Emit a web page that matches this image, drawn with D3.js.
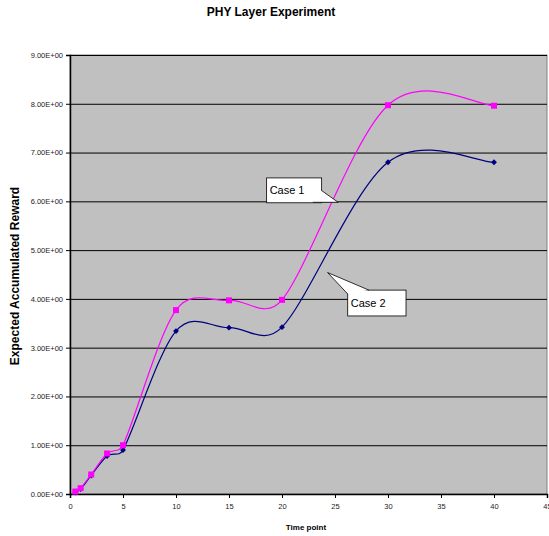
<!DOCTYPE html>
<html lang="en">
<head>
<meta charset="utf-8" />
<title>PHY Layer Experiment</title>
<script src="https://d3js.org/d3.v7.min.js"></script>
<style>
  body { margin: 0; background: #fff; }
  svg text { font-family: "Liberation Sans", Arial, sans-serif; }
</style>
</head>
<body>
<svg id="chart" width="549" height="536"></svg>
<script>
// data
const timePoints = [0.5, 1, 2, 3.5, 5, 10, 15, 20, 30, 40];
const case1 = [0.05, 0.12, 0.40, 0.83, 1.00, 3.77, 3.97, 3.98, 7.97, 7.96];
const case2 = [0.03, 0.10, 0.38, 0.78, 0.90, 3.34, 3.41, 3.42, 6.80, 6.80];
const xTicks = [0, 5, 10, 15, 20, 25, 30, 35, 40, 45];
const yTicks = [0, 1, 2, 3, 4, 5, 6, 7, 8, 9];
const yTickLabels = ["0.00E+00", "1.00E+00", "2.00E+00", "3.00E+00", "4.00E+00",
                     "5.00E+00", "6.00E+00", "7.00E+00", "8.00E+00", "9.00E+00"];

const svg = d3.select("#chart");
const margin = {top: 55, right: 2, bottom: 42, left: 70};
const width = +svg.attr("width"), height = +svg.attr("height");
const plotW = width - margin.left - margin.right;
const plotH = height - margin.top - margin.bottom;

const x = d3.scaleLinear().domain([0, 45]).range([0, plotW]);
const y = d3.scaleLinear().domain([0, 9]).range([plotH, 0]);

svg.append("text")
  .attr("x", 271).attr("y", 16)
  .attr("text-anchor", "middle")
  .style("font-size", "12px").style("font-weight", "bold")
  .text("PHY Layer Experiment");

const g = svg.append("g").attr("transform", "translate(" + margin.left + "," + margin.top + ")");

g.append("rect")
  .attr("width", plotW).attr("height", plotH)
  .attr("fill", "#c0c0c0").attr("stroke", "#808080").attr("stroke-width", 1);

// gridlines
g.append("g")
  .call(d3.axisLeft(y).tickValues(yTicks.slice(1)).tickSize(-plotW).tickFormat(""))
  .call(s => s.select(".domain").remove())
  .selectAll("line").attr("stroke", "#000").attr("stroke-width", 1);

// y axis
const yAxis = g.append("g")
  .call(d3.axisLeft(y).tickValues(yTicks).tickSize(4).tickPadding(3)
    .tickFormat((d, i) => yTickLabels[i]));
yAxis.select(".domain").attr("stroke", "#000").attr("stroke-width", 1.5);
yAxis.selectAll("text").style("font-size", "7.5px").attr("fill", "#222");

// x axis
const xAxis = g.append("g")
  .attr("transform", "translate(0," + plotH + ")")
  .call(d3.axisBottom(x).tickValues(xTicks).tickSize(4).tickPadding(6));
xAxis.select(".domain").attr("stroke", "#000").attr("stroke-width", 1.5);
xAxis.selectAll("text").style("font-size", "7.5px").attr("fill", "#222");

svg.append("text")
  .attr("x", 306).attr("y", 530)
  .attr("text-anchor", "middle")
  .style("font-size", "8px").style("font-weight", "bold")
  .text("Time point");

svg.append("text")
  .attr("transform", "translate(19,276) rotate(-90)")
  .attr("text-anchor", "middle")
  .style("font-size", "12px").style("font-weight", "bold")
  .text("Expected Accumulated Reward");

// excel-style smoothing: tangent (P2-P0)/6, capped at half the segment length
function smoothPath(pts) {
  const p = pts.map(d => [x(d[0]), y(d[1])]);
  const dist = (a, b) => Math.hypot(a[0] - b[0], a[1] - b[1]);
  const path = d3.path();
  path.moveTo(p[0][0], p[0][1]);
  for (let i = 0; i < p.length - 1; i++) {
    const p0 = p[Math.max(i - 1, 0)], p1 = p[i], p2 = p[i + 1], p3 = p[Math.min(i + 2, p.length - 1)];
    const d12 = dist(p1, p2), d02 = dist(p0, p2), d13 = dist(p1, p3);
    const f1 = d02 > 0 ? Math.min(1 / 6, d12 / 2 / d02) : 0;
    const f2 = d13 > 0 ? Math.min(1 / 6, d12 / 2 / d13) : 0;
    path.bezierCurveTo(
      p1[0] + (p2[0] - p0[0]) * f1, p1[1] + (p2[1] - p0[1]) * f1,
      p2[0] - (p3[0] - p1[0]) * f2, p2[1] - (p3[1] - p1[1]) * f2,
      p2[0], p2[1]);
  }
  return path.toString();
}

const s2 = timePoints.map((t, i) => [t, case2[i]]);
const s1 = timePoints.map((t, i) => [t, case1[i]]);

g.append("path").attr("d", smoothPath(s2))
  .attr("fill", "none").attr("stroke", "#000080").attr("stroke-width", 1.2);
g.append("path").attr("d", smoothPath(s1))
  .attr("fill", "none").attr("stroke", "#ff00ff").attr("stroke-width", 1.2);

g.selectAll("path.diamond").data(s2).join("path")
  .attr("class", "diamond")
  .attr("d", d3.symbol().type(d3.symbolDiamond2).size(22))
  .attr("transform", d => "translate(" + x(d[0]) + "," + y(d[1]) + ")")
  .attr("fill", "#000080");

g.selectAll("rect.square").data(s1).join("rect")
  .attr("class", "square")
  .attr("x", d => x(d[0]) - 3).attr("y", d => y(d[1]) - 3)
  .attr("width", 6).attr("height", 6)
  .attr("fill", "#ff00ff");

// callouts (data units)
function callout(label, box, wedge, tip) {
  const x0 = x(box[0]), x1 = x(box[1]), y0 = y(box[2]), y1 = y(box[3]);
  g.append("rect")
    .attr("x", x0).attr("y", y0).attr("width", x1 - x0).attr("height", y1 - y0)
    .attr("fill", "#fff").attr("stroke", "#000").attr("stroke-width", 0.8);
  g.append("path")
    .attr("d", "M" + x(wedge[0][0]) + "," + y(wedge[0][1]) +
               "L" + x(tip[0]) + "," + y(tip[1]) +
               "L" + x(wedge[1][0]) + "," + y(wedge[1][1]))
    .attr("fill", "#fff").attr("stroke", "#000").attr("stroke-width", 0.8);
  g.append("text")
    .attr("x", x0 + 3).attr("y", (y0 + y1) / 2 + 4)
    .style("font-size", "11px").attr("fill", "#000")
    .text(label);
}
callout("Case 1", [18.55, 23.74, 6.48, 5.97], [[23.74, 6.22], [22.9, 5.98]], [25.3, 5.98]);
callout("Case 2", [26.2, 31.7, 4.18, 3.65], [[26.2, 4.1], [28.2, 4.18]], [24.3, 4.54]);
</script>
</body>
</html>
